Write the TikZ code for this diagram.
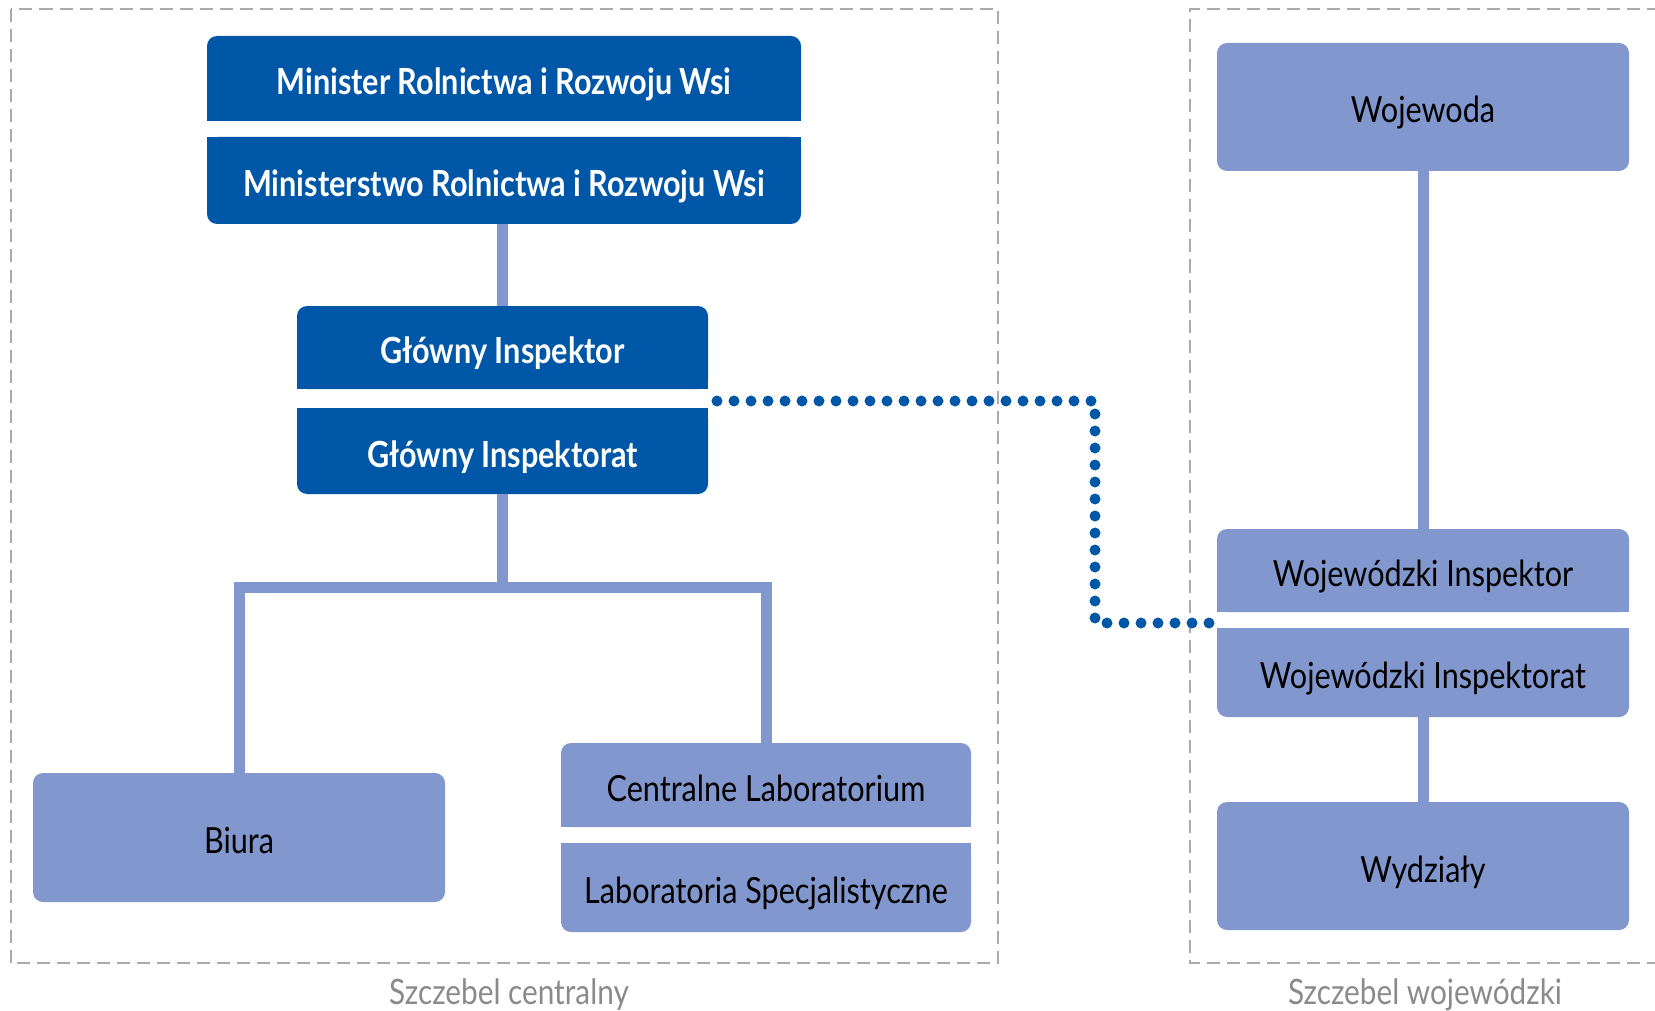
\documentclass[tikz,border=0pt]{standalone}
\usepackage{fontspec}
\setmainfont[FakeStretch=0.85]{Lato}
\definecolor{dk}{HTML}{0057A8}
\definecolor{lt}{HTML}{8197CD}
\definecolor{framec}{HTML}{AAAAAA}
\definecolor{labc}{HTML}{8A8A8A}
\begin{document}
\begin{tikzpicture}[x=1pt,y=-1pt,
  dkbox/.style={rectangle, fill=dk, text=white, font=\bfseries\fontsize{36}{40}\selectfont, rounded corners=10pt, inner sep=0pt, outer sep=0pt, text height=32pt, text depth=0pt},
  ltbox/.style={rectangle, fill=lt, text=black, font=\fontsize{36}{40}\selectfont, rounded corners=10pt, inner sep=0pt, outer sep=0pt, text height=32pt, text depth=0pt},
  conn/.style={draw=lt, line width=11pt},
  dots/.style={draw=dk, line width=11pt, line cap=round, dash pattern=on 0pt off 17pt},
  frame/.style={draw=framec, line width=2pt, dash pattern=on 13pt off 7pt},
  lab/.style={text=labc, font=\fontsize{35}{40}\selectfont, inner sep=0pt, anchor=base}]
\useasboundingbox (0,0) rectangle (1655,1011);

% frames
\draw[frame] (10.5,9.5) rectangle (998,963);
\draw[frame] (1700,9.5) -- (1190,9.5) -- (1190,963) -- (1700,963);

% central level
\node[dkbox, minimum width=594pt, minimum height=85pt] (min) at (504,78.5) {Minister Rolnictwa i Rozwoju Wsi};
\fill[dk] ([yshift=12pt]min.south west) rectangle (min.south east);
\node[dkbox, minimum width=594pt, minimum height=87pt] (mry) at (504,180.5) {Ministerstwo Rolnictwa i Rozwoju Wsi};
\fill[dk] (mry.north west) rectangle ([yshift=-12pt]mry.north east);

\node[dkbox, minimum width=411pt, minimum height=83pt] (gi) at (502.5,347.5) {Główny Inspektor};
\fill[dk] ([yshift=12pt]gi.south west) rectangle (gi.south east);
\node[dkbox, minimum width=411pt, minimum height=86pt] (gia) at (502.5,451) {Główny Inspektorat};
\fill[dk] (gia.north west) rectangle ([yshift=-12pt]gia.north east);

\node[ltbox, minimum width=412pt, minimum height=129pt] (biura) at (239,837.5) {Biura};
\node[ltbox, minimum width=410pt, minimum height=84pt] (cl) at (766,785) {Centralne Laboratorium};
\fill[lt] ([yshift=12pt]cl.south west) rectangle (cl.south east);
\node[ltbox, minimum width=410pt, minimum height=89pt] (ls) at (766,887.5) {Laboratoria Specjalistyczne};
\fill[lt] (ls.north west) rectangle ([yshift=-12pt]ls.north east);

% voivodeship level
\node[ltbox, minimum width=412pt, minimum height=128pt] (woj) at (1423,107) {Wojewoda};
\node[ltbox, minimum width=412pt, minimum height=83pt] (wi) at (1423,570.5) {Wojewódzki Inspektor};
\fill[lt] ([yshift=12pt]wi.south west) rectangle (wi.south east);
\node[ltbox, minimum width=412pt, minimum height=89pt] (wia) at (1423,672.5) {Wojewódzki Inspektorat};
\fill[lt] (wia.north west) rectangle ([yshift=-12pt]wia.north east);
\node[ltbox, minimum width=412pt, minimum height=128pt] (wyd) at (1423,866) {Wydziały};

% connectors
\draw[conn] (gi.north |- mry.south) -- (gi.north);
\coordinate (bar) at (502.5,587.5);
\draw[conn] (gia.south) -- (bar);
\draw[conn, line join=miter] (biura.north) -- (biura.north |- bar) -- (cl.north |- bar) -- (cl.north);
\draw[conn] (woj.south) -- (wi.north);
\draw[conn] (wia.south) -- (wyd.north);

% dotted link
\coordinate (d1) at (717,401);
\coordinate (d2) at (1095,401);
\coordinate (d3) at (1095,623);
\coordinate (d4) at (1216,623);
\draw[dots] (d1) -- (d2) -- (d3) -- (d4);

% labels
\node[lab] (lc) at (509,1004) {Szczebel centralny};
\node[lab] (lw) at (1425,1004) {Szczebel wojewódzki};
\end{tikzpicture}
\end{document}
